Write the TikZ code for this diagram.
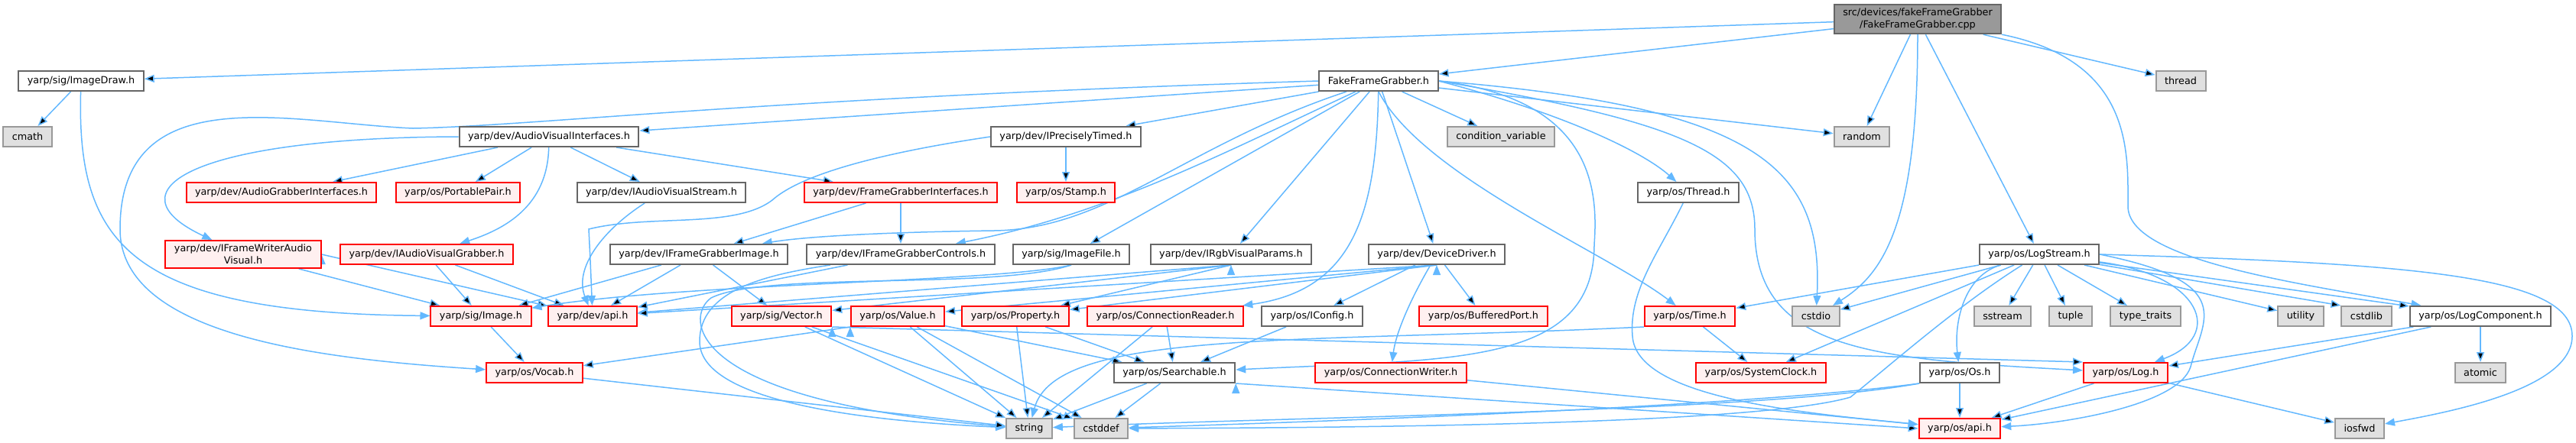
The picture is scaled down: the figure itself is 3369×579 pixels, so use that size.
\documentclass[tikz,border=0pt]{standalone}
\usepackage{fontspec}
\setmainfont{DejaVu Sans}
\usetikzlibrary{arrows.meta,backgrounds}
\definecolor{lien}{RGB}{99,184,255}
\definecolor{bordgris}{RGB}{102,102,102}
\definecolor{bordclair}{RGB}{153,153,153}
\definecolor{fondgris}{RGB}{224,224,224}
\definecolor{fondfonce}{RGB}{153,153,153}
\definecolor{bordrouge}{RGB}{255,0,0}
\definecolor{fondrouge}{RGB}{255,240,240}
\begin{document}
\begin{tikzpicture}[
    x=0.5pt, y=-0.5pt, % une unité = un pixel de l'image
    every node/.style={draw, line width=1pt, font=\fontsize{6.4}{8}\selectfont,
        inner xsep=5.75pt, inner ysep=2.5pt, minimum height=13pt},
    fichier/.style={draw=bordgris, fill=white},
    tronque/.style={draw=bordrouge, fill=fondrouge},
    systeme/.style={draw=bordclair, fill=fondgris},
    racine/.style={draw=bordgris, fill=fondfonce, align=center},
    inclut/.style={draw=lien, line width=0.75pt, -{Triangle[length=6.5pt,width=5pt]}}
]
\useasboundingbox (0,0) rectangle (3369,579);
% Racine
\node[racine] (cpp) at (2508,25) {src/devices/fakeFrameGrabber\\/FakeFrameGrabber.cpp};
% Niveau 1
\node[fichier] (imagedraw) at (106,106) {yarp/sig/ImageDraw.h};
\node[fichier] (ffg) at (1803,106) {FakeFrameGrabber.h};
\node[systeme] (thread) at (2852,106) {thread};
% Niveau 2
\node[systeme] (cmath) at (36,179) {cmath};
\node[fichier] (avi) at (718,179) {yarp/dev/AudioVisualInterfaces.h};
\node[fichier] (ipt) at (1394,179) {yarp/dev/IPreciselyTimed.h};
\node[systeme] (condvar) at (1963,179) {condition\_variable};
\node[systeme] (random) at (2435,179) {random};
% Niveau 3
\node[tronque] (agi) at (368,252) {yarp/dev/AudioGrabberInterfaces.h};
\node[tronque] (portpair) at (599,252) {yarp/os/PortablePair.h};
\node[fichier] (iavs) at (865,252) {yarp/dev/IAudioVisualStream.h};
\node[tronque] (fgi) at (1178,252) {yarp/dev/FrameGrabberInterfaces.h};
\node[tronque] (stamp) at (1394,252) {yarp/os/Stamp.h};
\node[fichier] (threadh) at (2208,252) {yarp/os/Thread.h};
% Niveau 4
\node[tronque, align=center] (ifwav) at (318,333) {yarp/dev/IFrameWriterAudio\\Visual.h};
\node[tronque] (iavg) at (558,333) {yarp/dev/IAudioVisualGrabber.h};
\node[fichier] (ifgi) at (914,333) {yarp/dev/IFrameGrabberImage.h};
\node[fichier] (ifgc) at (1178,333) {yarp/dev/IFrameGrabberControls.h};
\node[fichier] (imagefile) at (1401,333) {yarp/sig/ImageFile.h};
\node[fichier] (irgb) at (1610,333) {yarp/dev/IRgbVisualParams.h};
\node[fichier] (devdriver) at (1879,333) {yarp/dev/DeviceDriver.h};
\node[fichier] (logstream) at (2667,333) {yarp/os/LogStream.h};
% Niveau 5
\node[tronque] (image) at (629,414) {yarp/sig/Image.h};
\node[tronque] (devapi) at (775,414) {yarp/dev/api.h};
\node[tronque] (vector) at (1022,414) {yarp/sig/Vector.h};
\node[tronque] (value) at (1174,414) {yarp/os/Value.h};
\node[tronque] (property) at (1328,414) {yarp/os/Property.h};
\node[tronque] (connreader) at (1524,414) {yarp/os/ConnectionReader.h};
\node[fichier] (iconfig) at (1716,414) {yarp/os/IConfig.h};
\node[tronque] (bufport) at (1940,414) {yarp/os/BufferedPort.h};
\node[tronque] (time) at (2210,414) {yarp/os/Time.h};
\node[systeme] (cstdio) at (2375,414) {cstdio};
\node[systeme] (sstream) at (2619,414) {sstream};
\node[systeme] (tuple) at (2708,414) {tuple};
\node[systeme] (typetraits) at (2806,414) {type\_traits};
\node[systeme] (utility) at (3009,414) {utility};
\node[systeme] (cstdlib) at (3095,414) {cstdlib};
\node[fichier] (logcomp) at (3244,414) {yarp/os/LogComponent.h};
% Niveau 6
\node[tronque] (vocab) at (699,488) {yarp/os/Vocab.h};
\node[fichier] (searchable) at (1536,488) {yarp/os/Searchable.h};
\node[tronque] (connwriter) at (1819,488) {yarp/os/ConnectionWriter.h};
\node[tronque] (sysclock) at (2303,488) {yarp/os/SystemClock.h};
\node[fichier] (os) at (2563,488) {yarp/os/Os.h};
\node[tronque] (log) at (2780,488) {yarp/os/Log.h};
\node[systeme] (atomic) at (3244,488) {atomic};
% Niveau 7
\node[systeme] (string) at (1346,561) {string};
\node[systeme] (cstddef) at (1440,561) {cstddef};
\node[tronque] (osapi) at (2563,561) {yarp/os/api.h};
\node[systeme] (iosfwd) at (3086,561) {iosfwd};

\begin{pgfonlayer}{background}
% Inclusions du fichier racine
\path[inclut] (cpp) edge (imagedraw) edge (ffg) edge (thread) edge (random) edge (logstream);
\draw[inclut] (cpp) .. controls (2508,300) and (2460,360) .. (cstdio);
\draw[inclut] (cpp.south east) .. controls (2790,80) and (2783,200) .. (2783,270)
    .. controls (2783,340) and (3000,370) .. (logcomp);
\path[inclut] (imagedraw) edge (cmath);
\draw[inclut] (imagedraw) .. controls (100,320) and (170,410) .. (image);
% FakeFrameGrabber.h
\path[inclut] (ffg) edge (avi) edge (ipt) edge (condvar) edge (random)
    edge (devdriver) edge (irgb) edge (imagefile);
\draw[inclut] (ffg.west) .. controls (1000,128) and (700,165) .. (540,168)
    .. controls (380,161) and (157,100) .. (157,300)
    .. controls (157,440) and (420,470) .. (vocab);
\draw[inclut] (ffg.east) .. controls (2050,150) and (2150,200) .. (threadh);
\draw[inclut] (ffg.south) .. controls (1860,230) and (2100,330) .. (time);
\draw[inclut] (ffg) .. controls (1550,190) and (1450,300) .. (1300,302)
    .. controls (1150,304) and (1050,310) .. (ifgi);
\draw[inclut] (ffg) .. controls (1600,200) and (1450,280) .. (ifgc);
\draw[inclut] (ffg) .. controls (1800,280) and (1770,380) .. (connreader);
\draw[inclut] (ffg.east) .. controls (2085,130) and (2090,250) .. (2085,320)
    .. controls (2085,480) and (1900,470) .. (searchable);
\draw[inclut] (ffg.east) .. controls (2200,160) and (2295,200) .. (2295,300)
    .. controls (2295,460) and (2450,470) .. (log);
\draw[inclut] (ffg.east) .. controls (2300,140) and (2385,220) .. (cstdio);
% AudioVisualInterfaces.h
\path[inclut] (avi) edge (agi) edge (portpair) edge (iavs) edge (fgi);
\draw[inclut] (avi.west) .. controls (250,180) and (140,250) .. (ifwav);
\draw[inclut] (avi) .. controls (716,270) and (660,300) .. (iavg);
\path[inclut] (ipt) edge (stamp);
\draw[inclut] (ipt.west) .. controls (1120,205) and (1040,235) .. (1010,262)
    .. controls (960,300) and (850,280) .. (770,300) .. controls (772,340) .. (devapi);
\draw[inclut] (iavs) .. controls (790,300) and (750,350) .. (devapi);
\path[inclut] (fgi) edge (ifgi) edge (ifgc);
% Interfaces
\path[inclut] (ifwav) edge (image);
\path[inclut] (ifwav.east) edge (devapi);
\path[inclut] (iavg) edge (image) edge (devapi);
\path[inclut] (ifgi) edge (image) edge (devapi) edge (vector);
\path[inclut] (ifgc) edge (devapi);
\draw[inclut] (ifgc) .. controls (1000,360) and (915,380) .. (915,447)
    .. controls (915,520) and (1100,550) .. (string);
\draw[inclut] (imagefile.south) .. controls (1300,370) and (900,370) .. (image);
\draw[inclut] (imagefile.south) .. controls (1300,380) and (1000,355) .. (930,390)
    .. controls (895,415) and (895,525) .. (string);
\path[inclut] (irgb.south) edge (devapi) edge (vector) edge (property);
\path[inclut] (devdriver.south) edge (devapi) edge (value) edge (property);
\path[inclut] (devdriver) edge (iconfig) edge (bufport);
\draw[inclut] (devdriver) .. controls (1840,400) and (1825,440) .. (connwriter);
% Niveau 5 vers le bas
\path[inclut] (image) edge (vocab);
\path[inclut] (vocab) edge (string);
\path[inclut] (vector) edge (string) edge (cstddef);
\path[inclut] (vector.south east) edge (log.north west);
\path[inclut] (value.south west) edge (vocab);
\path[inclut] (value) edge (searchable) edge (string) edge (cstddef);
\path[inclut] (property) edge (searchable) edge (string);
\path[inclut] (connreader) edge (searchable) edge (string);
\path[inclut] (iconfig) edge (searchable);
\path[inclut] (searchable) edge (string) edge (cstddef);
\path[inclut] (searchable.south east) edge (osapi.west);
\path[inclut] (connwriter) edge (osapi);
\path[inclut] (time) edge (sysclock);
\draw[inclut] (time.south west) .. controls (1700,450) and (1380,430) .. (string);
\draw[inclut] (threadh) .. controls (2170,330) and (2130,380) .. (2135,440)
    .. controls (2140,520) and (2350,540) .. (osapi);
% LogStream.h
\path[inclut] (logstream) edge (time) edge (cstdio) edge (sysclock) edge (sstream)
    edge (tuple) edge (typetraits) edge (utility) edge (logcomp);
\path[inclut] (logstream) edge (cstdlib.north west);
\draw[inclut] (logstream) .. controls (2570,360) and (2555,420) .. (os);
\draw[inclut] (logstream) .. controls (2560,400) and (2470,480) .. (2420,520)
    .. controls (2300,555) and (1800,560) .. (cstddef);
\draw[inclut] (logstream) .. controls (2880,360) and (2910,440) .. (log);
\draw[inclut] (logstream.east) .. controls (2930,370) and (2880,420) .. (2865,480)
    .. controls (2850,530) and (2700,555) .. (osapi);
\draw[inclut] (logstream.east) .. controls (3150,345) and (3364,360) .. (3364,440)
    .. controls (3364,510) and (3200,540) .. (iosfwd);
% Bas du graphe
\path[inclut] (os) edge (osapi);
\draw[inclut] (os.south west) .. controls (2300,540) and (1700,545) .. (string);
\draw[inclut] (os.south west) .. controls (2300,530) and (1800,550) .. (cstddef);
\path[inclut] (log) edge (osapi) edge (iosfwd);
\path[inclut] (logcomp) edge (log) edge (osapi) edge (atomic);
\end{pgfonlayer}
\end{tikzpicture}
\end{document}
